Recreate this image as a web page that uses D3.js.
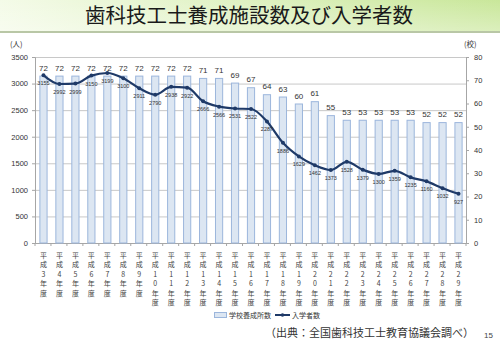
<!DOCTYPE html>
<html>
<head>
<meta charset="utf-8">
<script src="https://cdn.jsdelivr.net/npm/d3@7"></script>
<style>
  html, body { margin: 0; padding: 0; background: #fff; }
  svg { display: block; font-family: "Noto Sans CJK JP", "Noto Sans", sans-serif; }
</style>
</head>
<body>
<svg id="chart" width="500" height="345"></svg>
<script>
// 平成3年度〜平成29年度
const years = [3,4,5,6,7,8,9,10,11,12,13,14,15,16,17,18,19,20,21,22,23,24,25,26,27,28,29];
// 学校養成所数（校）
const schools = [72,72,72,72,72,72,72,72,72,72,71,71,69,67,64,63,60,61,55,53,53,53,53,53,52,52,52];
// 入学者数（人）
const entrants = [3155,2992,2999,3150,3199,3100,2911,2790,2938,2922,2666,2566,2531,2522,2287,1886,1629,1462,1373,1528,1379,1300,1359,1235,1160,1032,927];
const leftTicks = [0,500,1000,1500,2000,2500,3000,3500];
const rightTicks = [0,10,20,30,40,50,60,70,80];

const svg = d3.select("#chart");
const W = 500, H = 345;

// Title banner
const defs = svg.append("defs");
const grad = defs.append("linearGradient").attr("id", "band").attr("x1", 0).attr("x2", 1).attr("y1", 0).attr("y2", 0);
grad.append("stop").attr("offset", "0%").attr("stop-color", "#f4fbe8");
grad.append("stop").attr("offset", "100%").attr("stop-color", "#c9e79a");
const grad2 = defs.append("linearGradient").attr("id", "bandv").attr("x1", 0).attr("x2", 0).attr("y1", 0).attr("y2", 1);
grad2.append("stop").attr("offset", "0%").attr("stop-color", "#ffffff").attr("stop-opacity", 0.0);
grad2.append("stop").attr("offset", "100%").attr("stop-color", "#ffffff").attr("stop-opacity", 0.35);
svg.append("rect").attr("x", 0).attr("y", 0).attr("width", W).attr("height", 32).attr("fill", "url(#band)");
svg.append("rect").attr("x", 0).attr("y", 0).attr("width", W).attr("height", 32).attr("fill", "url(#bandv)");
svg.append("rect").attr("x", 0).attr("y", 31).attr("width", W).attr("height", 2).attr("fill", "#b9c7a6");
svg.append("text").attr("x", 249).attr("y", 23).attr("text-anchor", "middle")
  .attr("font-size", 20.5).attr("fill", "#1a1a1a").text("歯科技工士養成施設数及び入学者数");

// Plot area
const m = { left: 35, right: 466, top: 57, bottom: 243 };
const x = d3.scaleBand().domain(years).range([m.left, m.right]).paddingInner(0.55).paddingOuter(0.275);
const yL = d3.scaleLinear().domain([0, 3500]).range([m.bottom, m.top]);
const yR = d3.scaleLinear().domain([0, 80]).range([m.bottom, m.top]);

// Gridlines
svg.append("g").selectAll("line").data(leftTicks.filter(d => d > 0)).join("line")
  .attr("x1", m.left).attr("x2", m.right)
  .attr("y1", d => yL(d) + 0.5).attr("y2", d => yL(d) + 0.5)
  .attr("stroke", "#c8c8c8").attr("stroke-width", 1);

// Left axis
const axL = svg.append("g").attr("transform", `translate(${m.left},0)`)
  .call(d3.axisLeft(yL).tickValues(leftTicks).tickFormat(d3.format("d")).tickSize(3).tickPadding(4));
axL.select(".domain").attr("stroke", "#a6a6a6");
axL.selectAll(".tick line").attr("stroke", "#a6a6a6");
axL.selectAll("text").attr("font-size", 7.5).attr("fill", "#333").attr("font-family", "Liberation Sans, sans-serif");

// Right axis
const axR = svg.append("g").attr("transform", `translate(${m.right},0)`)
  .call(d3.axisRight(yR).tickValues(rightTicks).tickFormat(d3.format("d")).tickSize(3).tickPadding(5));
axR.select(".domain").attr("stroke", "#a6a6a6");
axR.selectAll(".tick line").attr("stroke", "#a6a6a6");
axR.selectAll("text").attr("font-size", 7.5).attr("fill", "#333").attr("font-family", "Liberation Sans, sans-serif");

// Bottom axis line with category tick marks
svg.append("line").attr("x1", m.left).attr("x2", m.right).attr("y1", m.bottom + 0.5).attr("y2", m.bottom + 0.5)
  .attr("stroke", "#a6a6a6");
const step = x.step();
svg.append("g").selectAll("line").data(d3.range(years.length + 1)).join("line")
  .attr("x1", i => m.left + i * step).attr("x2", i => m.left + i * step)
  .attr("y1", m.bottom).attr("y2", m.bottom + 3).attr("stroke", "#a6a6a6");

// Unit labels
svg.append("text").attr("x", 10).attr("y", 47).attr("font-size", 7.5).attr("fill", "#333").text("(人)");
svg.append("text").attr("x", 464).attr("y", 47).attr("font-size", 7.5).attr("fill", "#333").text("(校)");

// Bars: 学校養成所数
svg.append("g").selectAll("rect").data(years).join("rect")
  .attr("x", (d) => x(d) + 0.5)
  .attr("y", (d, i) => yR(schools[i]) + 0.5)
  .attr("width", x.bandwidth())
  .attr("height", (d, i) => m.bottom - yR(schools[i]) - 0.5)
  .attr("fill", "#dce6f2").attr("stroke", "#9cb6dc").attr("stroke-width", 1);

// Bar value labels
svg.append("g").selectAll("text").data(years).join("text")
  .attr("x", d => x(d) + x.bandwidth() / 2 + 0.5)
  .attr("y", (d, i) => yR(schools[i]) - 5)
  .attr("text-anchor", "middle").attr("font-size", 8).attr("fill", "#333")
  .attr("font-family", "Liberation Sans, sans-serif")
  .text((d, i) => schools[i]);

// Line: 入学者数
const cx = d => x(d) + x.bandwidth() / 2 + 0.5;
const line = d3.line().x((d, i) => cx(years[i])).y(d => yL(d)).curve(d3.curveMonotoneX);
svg.append("path").datum(entrants).attr("d", line)
  .attr("fill", "none").attr("stroke", "#1f3a68").attr("stroke-width", 2.2);
svg.append("g").selectAll("circle").data(entrants).join("circle")
  .attr("cx", (d, i) => cx(years[i])).attr("cy", d => yL(d)).attr("r", 2)
  .attr("fill", "#1f3a68");

// Line value labels
svg.append("g").selectAll("text").data(entrants).join("text")
  .attr("x", (d, i) => cx(years[i]))
  .attr("y", d => yL(d) + 10)
  .attr("text-anchor", "middle").attr("font-size", 5.5).attr("fill", "#333")
  .attr("font-family", "Liberation Sans, sans-serif")
  .text(d => d);

// Category labels, stacked vertically
const catG = svg.append("g");
years.forEach(yv => {
  const chars = ["平", "成", ...String(yv).split(""), "年", "度"];
  const t = catG.append("text").attr("text-anchor", "middle").attr("font-size", 7).attr("fill", "#444");
  chars.forEach((c, k) => {
    t.append("tspan").attr("x", cx(yv)).attr("y", 258 + k * 9.4).text(c);
  });
});

// Legend
const lg = svg.append("g");
lg.append("rect").attr("x", 214.5).attr("y", 312.5).attr("width", 12).attr("height", 5)
  .attr("fill", "#dce6f2").attr("stroke", "#9cb6dc");
lg.append("text").attr("x", 229).attr("y", 318).attr("font-size", 7).attr("fill", "#333").text("学校養成所数");
lg.append("line").attr("x1", 275).attr("x2", 290).attr("y1", 315).attr("y2", 315).attr("stroke", "#1f3a68").attr("stroke-width", 2);
lg.append("circle").attr("cx", 282.5).attr("cy", 315).attr("r", 1.8).attr("fill", "#1f3a68");
lg.append("text").attr("x", 292).attr("y", 318).attr("font-size", 7).attr("fill", "#333").text("入学者数");

// Source note and page number
svg.append("text").attr("x", 265).attr("y", 337).attr("font-size", 11).attr("fill", "#333")
  .text("（出典：全国歯科技工士教育協議会調べ）");
svg.append("text").attr("x", 484).attr("y", 338).attr("font-size", 8).attr("fill", "#444")
  .attr("font-family", "Liberation Sans, sans-serif").text("15");
</script>
</body>
</html>
